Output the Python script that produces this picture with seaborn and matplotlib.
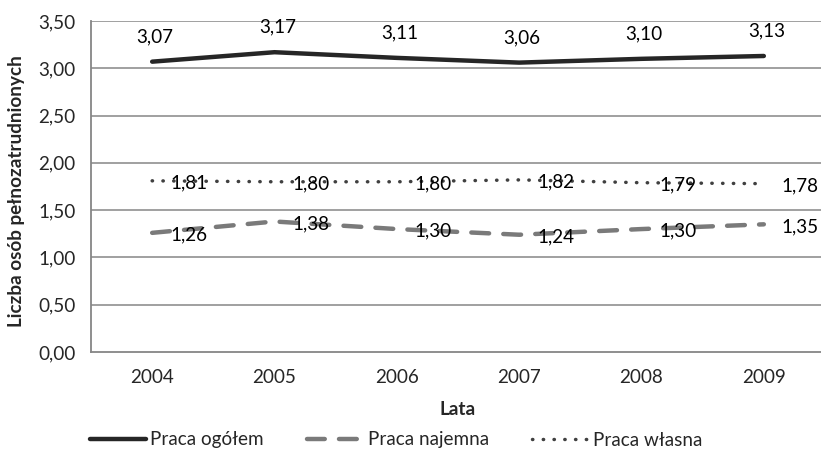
import matplotlib
matplotlib.use("Agg")
import matplotlib.pyplot as plt
import seaborn as sns

# data
years = ["2004", "2005", "2006", "2007", "2008", "2009"]
ogolem = [3.07, 3.17, 3.11, 3.06, 3.10, 3.13]
najemna = [1.26, 1.38, 1.30, 1.24, 1.30, 1.35]
wlasna = [1.81, 1.80, 1.80, 1.82, 1.79, 1.78]
y_ticks = [0.0, 0.5, 1.0, 1.5, 2.0, 2.5, 3.0, 3.5]

sns.set_style("white")
plt.rcParams["font.family"] = ["Lato", "DejaVu Sans"]

fig = plt.figure(figsize=(8.21, 4.51), dpi=100)
ax = fig.add_axes([91 / 821, 1 - 352 / 451, (825 - 91) / 821, (352 - 21) / 451])

grid_c = "#868686"
for y in y_ticks[1:]:
    ax.axhline(y, color=grid_c, lw=1.1, zorder=0)

sns.lineplot(x=years, y=ogolem, ax=ax, color="#262626", lw=3.2,
             solid_capstyle="round", label="Praca ogółem", sort=False)
sns.lineplot(x=years, y=najemna, ax=ax, color="#7a7a7a", lw=3.2,
             linestyle=(0, (4.0, 3.2)), dash_capstyle="round",
             label="Praca najemna", sort=False)
sns.lineplot(x=years, y=wlasna, ax=ax, color="#404040", lw=2.5,
             linestyle=(0, (0.1, 3.0)), dash_capstyle="round",
             label="Praca własna", sort=False)

fs = 13.6
fmt = lambda v: f"{v:.2f}".replace(".", ",")
for i, v in enumerate(ogolem):
    ax.annotate(fmt(v), (i, v), xytext=(2, 18), textcoords="offset points",
                ha="center", va="center", fontsize=fs, color="black")
for series in (najemna, wlasna):
    for i, v in enumerate(series):
        ax.annotate(fmt(v), (i, v), xytext=(13, -1.5), textcoords="offset points",
                    ha="left", va="center", fontsize=fs, color="black")

ax.set_xlim(-0.5, 5.5)
ax.set_ylim(0, 3.5)
ax.set_yticks(y_ticks)
ax.set_yticklabels([fmt(t) for t in y_ticks], fontsize=fs)
ax.set_xticks(range(len(years)))
ax.set_xticklabels(years, fontsize=fs)
ax.set_xticks([i - 0.5 for i in range(len(years) + 1)], minor=True)
ax.tick_params(axis="x", which="major", length=0, pad=12)
ax.tick_params(axis="x", which="minor", length=5, color=grid_c, width=1.1, direction="out")
ax.tick_params(axis="y", length=5, color=grid_c, width=1.1, direction="out", pad=6)

for s in ("top", "right"):
    ax.spines[s].set_visible(False)
for s in ("left", "bottom"):
    ax.spines[s].set_color(grid_c)
    ax.spines[s].set_linewidth(1.3)

ax.set_xlabel("Lata", fontsize=fs, fontweight="bold", labelpad=11)
ax.set_ylabel("Liczba osób pełnozatrudnionych", fontsize=fs, fontweight="bold")
ax.yaxis.set_label_coords(-0.09, 0.485)

ax.legend(loc="center", bbox_to_anchor=(396 / 821, 1 - 440 / 451),
          bbox_transform=fig.transFigure, ncol=3, frameon=False, fontsize=fs,
          handlelength=3.0, handletextpad=0.2, columnspacing=2.3)

fig.savefig("out.png", dpi=100)
